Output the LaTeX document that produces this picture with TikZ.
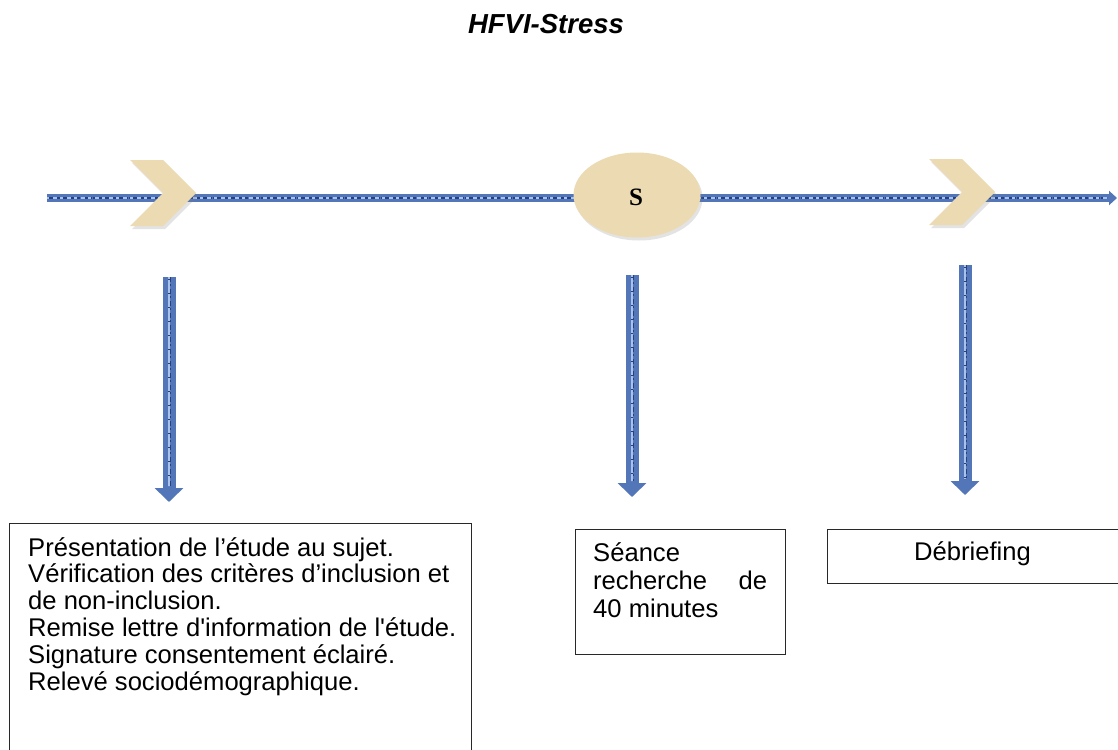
\documentclass[tikz,border=0pt]{standalone}
\usepackage{fontspec}
\setmainfont{Liberation Sans}
\newfontfamily\serifbold{Liberation Serif}
\usetikzlibrary{shapes.symbols,shapes.geometric,arrows.meta,shadows}
\definecolor{tanfill}{RGB}{236,219,178}
\definecolor{bluebase}{RGB}{82,118,184}
\definecolor{bluedark}{RGB}{38,64,130}
\definecolor{bluelight}{RGB}{168,194,234}
\definecolor{boxline}{RGB}{40,40,40}
\tikzset{
  mainbar/.style={line width=8pt, draw=bluebase, -{Triangle[width=14pt,length=8pt]}},
  texdark/.style={draw=bluedark, dash pattern=on 5pt off 2pt on 2pt off 3pt},
  texdarkb/.style={draw=bluedark, dash pattern=on 3pt off 3pt on 4pt off 2pt, dash phase=2pt},
  texlite/.style={draw=bluelight, dash pattern=on 3pt off 4pt on 4pt off 3pt, dash phase=1pt},
  downbar/.style={line width=13pt, draw=bluebase, -{Triangle[width=28pt,length=14pt]}},
  chevron/.style={signal, signal to=east, signal from=west, signal pointer angle=90,
    fill=tanfill, draw=none, minimum width=60pt, minimum height=66pt, inner sep=0pt,
    drop shadow={opacity=0.22, shadow xshift=2pt, shadow yshift=-3pt}},
  stagebox/.style={draw=boxline, line width=1.4pt, fill=white, inner sep=0pt, anchor=north west},
  boxtext/.style={anchor=base west, inner sep=0pt},
}
\begin{document}
\begin{tikzpicture}[x=1pt,y=-1pt]
\useasboundingbox (0,0) rectangle (1118,749);
\fill[white] (0,0) rectangle (1118,749);

% title
\node[font=\fontsize{27.5}{32}\selectfont\bfseries\itshape, anchor=base, inner sep=0pt] (title) at (546,34) {HFVI-Stress};

% timeline
\coordinate (tstart) at (47,198);
\coordinate (tend) at (1117,198);
\draw[mainbar] (tstart) -- (tend);
\draw[texdark, line width=2.2pt, yshift=-2pt] (tstart) -- ([xshift=-10pt]tend);
\draw[texdarkb, line width=1.8pt, yshift=2.2pt] (tstart) -- ([xshift=-10pt]tend);
\draw[texlite, line width=1.4pt, yshift=0.2pt] (tstart) -- ([xshift=-10pt]tend);

\node[chevron] (chevA) at (163,193) {};
\node[chevron] (chevB) at (962,192) {};
\node[ellipse, fill=tanfill, minimum width=127pt, minimum height=85pt, inner sep=0pt,
      drop shadow={opacity=0.22, shadow xshift=2pt, shadow yshift=-3pt}] (sess) at (637,195) {};
\node[font=\fontsize{25}{28}\selectfont\serifbold\bfseries, anchor=base, inner sep=0pt] (sessS) at (636,205) {S};

% vertical arrows
\coordinate (aTop) at (169,277);
\coordinate (aBot) at (169,502);
\coordinate (bTop) at (632,275);
\coordinate (bBot) at (632,497);
\coordinate (cTop) at (965,265);
\coordinate (cBot) at (965,495);
\foreach \t/\b in {aTop/aBot,bTop/bBot,cTop/cBot}{
  \draw[downbar] (\t) -- (\b);
  \draw[texdark, line width=3pt, xshift=-3.5pt] (\t) -- ([yshift=16pt]\b);
  \draw[texdarkb, line width=2.5pt, xshift=2.5pt] (\t) -- ([yshift=16pt]\b);
  \draw[texlite, line width=2pt, xshift=-0.5pt] (\t) -- ([yshift=16pt]\b);
  \draw[texlite, line width=1.5pt, xshift=5pt, dash phase=4pt] (\t) -- ([yshift=16pt]\b);
}

% boxes
\node[stagebox, minimum width=462pt, minimum height=260pt] (boxA) at (9,523) {};
\node[boxtext] (txtA) at (28,556) {\fontsize{25.6}{26.8}\selectfont\parbox[t]{440pt}{\raggedright
Présentation de l’étude au sujet.\\
Vérification des critères d’inclusion et\\
de non-inclusion.\\
Remise lettre d\textquotesingle information de l\textquotesingle étude.\\
Signature consentement éclairé.\\
Relevé sociodémographique.}};

\node[stagebox, minimum width=210pt, minimum height=125pt] (boxB) at (575,529) {};
\node[boxtext] (txtB) at (593,561)
  {\fontsize{25.6}{28}\selectfont\parbox[t]{174pt}{\raggedright Séance\\ recherche\hfill de\\ 40 minutes}};

\node[stagebox, minimum width=300pt, minimum height=54pt] (boxC) at (827,529) {};
\node[font=\fontsize{25.6}{28}\selectfont, anchor=base, inner sep=0pt] (txtC) at (972.5,560) {Débriefing};
\end{tikzpicture}
\end{document}
